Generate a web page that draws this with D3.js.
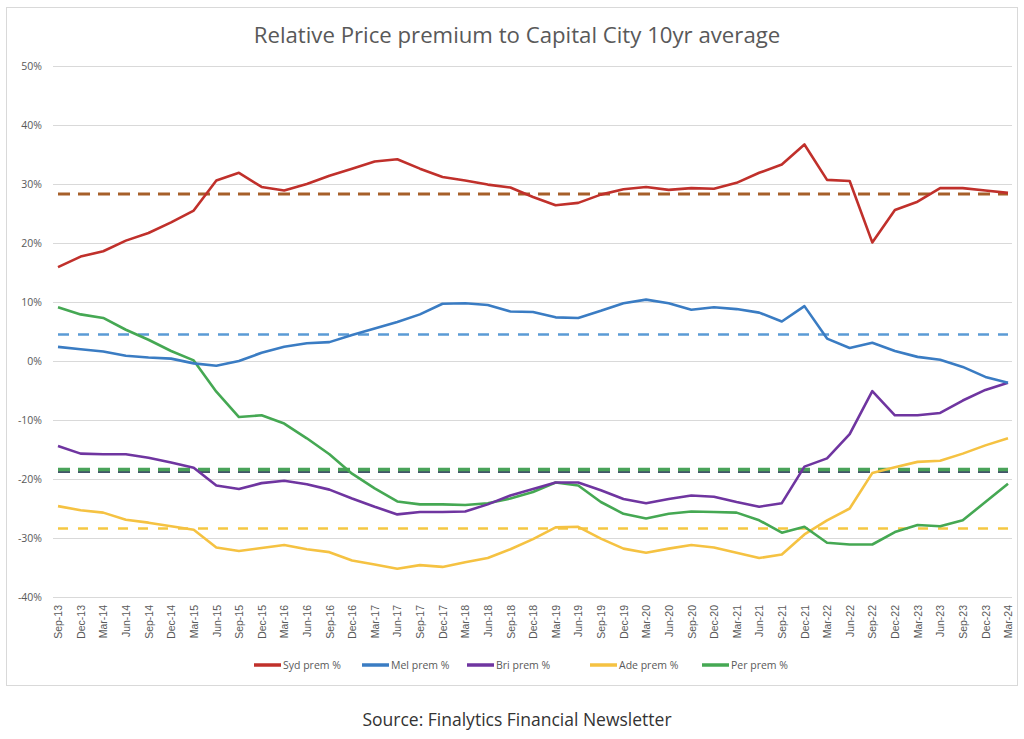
<!DOCTYPE html>
<html><head><meta charset="utf-8">
<script src="https://cdn.jsdelivr.net/npm/d3@7/dist/d3.min.js"></script>
<style>
body{margin:0;background:#fff;}
svg{display:block;font-family:"Open Sans",Lato,sans-serif;}
</style></head>
<body><svg id="c" width="1024" height="739"></svg>
<script>
const quarters = ["Sep-13","Dec-13","Mar-14","Jun-14","Sep-14","Dec-14","Mar-15","Jun-15","Sep-15","Dec-15",
"Mar-16","Jun-16","Sep-16","Dec-16","Mar-17","Jun-17","Sep-17","Dec-17","Mar-18","Jun-18",
"Sep-18","Dec-18","Mar-19","Jun-19","Sep-19","Dec-19","Mar-20","Jun-20","Sep-20","Dec-20",
"Mar-21","Jun-21","Sep-21","Dec-21","Mar-22","Jun-22","Sep-22","Dec-22","Mar-23","Jun-23",
"Sep-23","Dec-23","Mar-24"];
const syd = [15.9,17.7,18.6,20.4,21.7,23.5,25.5,30.6,31.9,29.5,28.9,30.0,31.4,32.6,33.8,34.2,32.6,31.2,30.6,29.9,
29.4,27.8,26.4,26.8,28.2,29.1,29.5,29.0,29.3,29.2,30.2,31.9,33.3,36.7,30.7,30.5,20.1,25.6,27.0,29.3,29.3,28.9,28.5];
const mel = [2.4,2.0,1.6,0.9,0.6,0.4,-0.4,-0.8,0.0,1.4,2.4,3.0,3.2,4.4,5.5,6.6,7.9,9.7,9.8,9.5,
8.4,8.3,7.4,7.3,8.5,9.8,10.4,9.8,8.7,9.1,8.8,8.2,6.7,9.3,3.8,2.2,3.1,1.7,0.7,0.2,-1.0,-2.7,-3.7];
const bri = [-14.4,-15.7,-15.8,-15.8,-16.4,-17.2,-18.1,-21.1,-21.7,-20.7,-20.3,-20.9,-21.8,-23.3,-24.7,-26.0,-25.6,-25.6,-25.5,-24.3,
-22.8,-21.7,-20.6,-20.6,-21.9,-23.4,-24.1,-23.4,-22.8,-23.0,-23.9,-24.7,-24.1,-17.9,-16.5,-12.4,-5.1,-9.2,-9.2,-8.8,-6.7,-4.9,-3.7];
const ade = [-24.6,-25.3,-25.7,-26.9,-27.4,-28.0,-28.6,-31.6,-32.2,-31.7,-31.2,-31.9,-32.4,-33.8,-34.5,-35.2,-34.6,-34.9,-34.1,-33.4,
-31.9,-30.2,-28.2,-28.1,-30.1,-31.8,-32.5,-31.8,-31.2,-31.6,-32.5,-33.4,-32.8,-29.4,-27.0,-25.0,-19.0,-18.0,-17.1,-16.9,-15.7,-14.3,-13.1];
const per = [9.1,7.9,7.3,5.3,3.6,1.7,0.1,-5.2,-9.5,-9.2,-10.6,-13.1,-15.8,-19.1,-21.6,-23.8,-24.3,-24.3,-24.4,-24.1,
-23.3,-22.2,-20.6,-21.1,-23.9,-25.9,-26.7,-25.9,-25.5,-25.6,-25.7,-27.0,-29.1,-28.1,-30.8,-31.1,-31.1,-29.0,-27.8,-28.0,-27.0,-23.9,-20.8];
const seriesNames = ["Syd prem %","Mel prem %","Bri prem %","Ade prem %","Per prem %"];
const averages = [28.3,4.5,-18.7,-28.4,-18.4];
const yTicks = [-40,-30,-20,-10,0,10,20,30,40,50];
const title = "Relative Price premium to Capital City 10yr average";
const source = "Source: Finalytics Financial Newsletter";

const colors = ["#c0302b","#3a7cc3","#6f35a0","#f5c242","#45a853"];
const avgColors = ["#a65f2a","#5b9bd5","#44546a","#f5c842","#4aa35a"];
const avgWidths = [3,2.5,3.5,2.5,3.5];
const avgDash = ["12,8","11,9","12,8","10,10","12,8"];
const avgOrder = [0,1,2,3,4];

const svg = d3.select("#c");
// frame
svg.append("rect").attr("x",6.5).attr("y",7.5).attr("width",1011).attr("height",678)
  .attr("fill","#fff").attr("stroke","#d9d9d9");

const x = d3.scalePoint().domain(quarters).range([58,1008]);
const y = d3.scaleLinear().domain([-40,50]).range([597,66]);
const gridL = 53, gridR = 1012;

// y axis + gridlines
const ya = svg.append("g").attr("transform",`translate(${gridL},0)`)
  .call(d3.axisLeft(y).tickValues(yTicks).tickFormat(d=>d+"%").tickSize(-(gridR-gridL)).tickPadding(11));
ya.select(".domain").remove();
ya.selectAll(".tick line").attr("stroke","#d9d9d9");
ya.selectAll(".tick text").attr("fill","#595959").style("font-size","10.5px").style("font-family","'Open Sans',sans-serif");

// x axis labels
const xa = svg.append("g").attr("transform",`translate(0,${y(-40)})`)
  .call(d3.axisBottom(x).tickSize(0));
xa.select(".domain").remove();
xa.selectAll(".tick text").attr("fill","#595959").style("font-size","10.5px")
  .attr("text-anchor","end").attr("transform","translate(0,8) rotate(-90)")
  .attr("x",0).attr("y",0).attr("dy","0.35em");

// average dashed lines
const avgG = svg.append("g");
avgOrder.forEach(i=>{
  avgG.append("line")
    .attr("x1",x(quarters[0])).attr("x2",x(quarters[quarters.length-1]))
    .attr("y1",y(averages[i])).attr("y2",y(averages[i]))
    .attr("stroke",avgColors[i]).attr("stroke-width",avgWidths[i])
    .attr("stroke-dasharray",avgDash[i]);
});

// series lines
const data = [syd,mel,bri,ade,per];
const line = d3.line().x((d,i)=>x(quarters[i])).y(d=>y(d));
const drawOrder = [3,4,2,1,0];
drawOrder.forEach(i=>{
  svg.append("path").datum(data[i]).attr("d",line).attr("fill","none")
    .attr("stroke",colors[i]).attr("stroke-width",2.6).attr("stroke-linejoin","round");
});

// legend
const legX = [254,362,467,590,702];
const lg = svg.append("g");
seriesNames.forEach((n,i)=>{
  lg.append("line").attr("x1",legX[i]).attr("x2",legX[i]+27).attr("y1",665).attr("y2",665)
    .attr("stroke",colors[i]).attr("stroke-width",3.5);
  lg.append("text").attr("x",legX[i]+29).attr("y",665).attr("dy","0.35em")
    .attr("fill","#595959").style("font-size","10.5px").text(n);
});

// title
svg.append("text").attr("x",517).attr("y",35).attr("dy","0.35em").attr("text-anchor","middle")
  .attr("fill","#595959").style("font-size","22.2px").text(title);

// source
svg.append("text").attr("x",517).attr("y",720).attr("dy","0.35em").attr("text-anchor","middle")
  .attr("fill","#333").style("font-size","17.5px").text(source);
</script></body></html>
